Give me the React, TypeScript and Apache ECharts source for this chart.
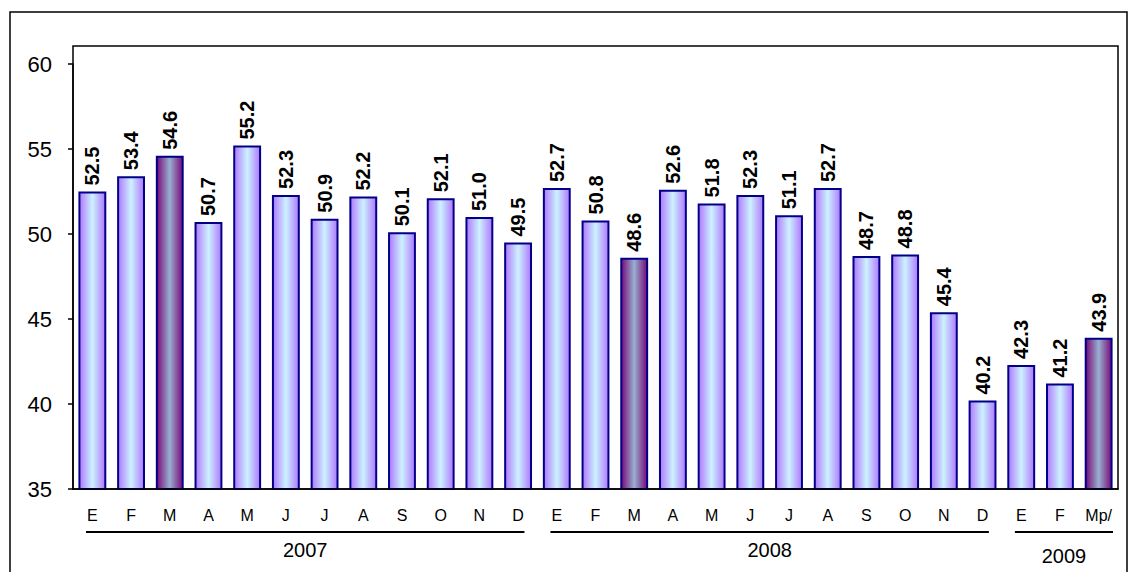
import React, { useEffect, useRef } from "react";
import * as echarts from "echarts";

const months = ["E","F","M","A","M","J","J","A","S","O","N","D","E","F","M","A","M","J","J","A","S","O","N","D","E","F","Mp/"];
const values = [52.5,53.4,54.6,50.7,55.2,52.3,50.9,52.2,50.1,52.1,51.0,49.5,52.7,50.8,48.6,52.6,51.8,52.3,51.1,52.7,48.7,48.8,45.4,40.2,42.3,41.2,43.9];
const highlighted = [2, 14, 26];
const years = [
  { label: "2007", from: 0, to: 11 },
  { label: "2008", from: 12, to: 23 },
  { label: "2009", from: 24, to: 26 },
];

const FONT = "Arial";

export default function App() {
  const ref = useRef<HTMLDivElement>(null);
  useEffect(() => {
    const chart = echarts.init(ref.current!, null, { renderer: "svg" });
    const normalFill = new echarts.graphic.LinearGradient(0, 0, 1, 0, [
      { offset: 0, color: "#b078ff" },
      { offset: 0.5, color: "#ccf2ff" },
      { offset: 1, color: "#b078ff" },
    ]);
    const hiFill = new echarts.graphic.LinearGradient(0, 0, 1, 0, [
      { offset: 0, color: "#780878" },
      { offset: 0.5, color: "#98b0d0" },
      { offset: 1, color: "#780878" },
    ]);
    const gridLeft = 73, gridRight = 12, gridTop = 64, gridBottom = 83;
    const width = 1130;
    const plotW = width - gridLeft - gridRight;
    const band = plotW / months.length;
    const graphics: any[] = [
      {
        type: "rect",
        shape: { x: 10, y: 12, width: 1117, height: 572 },
        style: { fill: "none", stroke: "#000", lineWidth: 1.5 },
        silent: true,
      },
      {
        type: "rect",
        shape: { x: gridLeft, y: 46, width: plotW, height: 572 - gridBottom - 46 },
        style: { fill: "none", stroke: "#000", lineWidth: 1.5 },
        silent: true,
        z: 10,
      },
    ];
    years.forEach((y, idx) => {
      const x1 = gridLeft + y.from * band + 13;
      const x2 = gridLeft + (y.to + 1) * band - (idx === 2 ? 5 : 13);
      graphics.push({
        type: "line",
        shape: { x1, y1: 532, x2, y2: 532 },
        style: { stroke: "#000", lineWidth: 2 },
        silent: true,
      });
      graphics.push({
        type: "text",
        x: (x1 + x2) / 2,
        y: idx === 2 ? 556 : 550,
        style: {
          text: y.label,
          fill: "#000",
          fontSize: 20,
          fontFamily: FONT,
          align: "center",
          verticalAlign: "middle",
        },
        silent: true,
      });
    });
    chart.setOption({
      animation: false,
      grid: { left: gridLeft, right: gridRight, top: gridTop, bottom: gridBottom },
      xAxis: {
        type: "category",
        data: months,
        axisLine: { lineStyle: { color: "#000", width: 1.5 } },
        axisTick: { inside: true, length: 4, lineStyle: { color: "#000", width: 1.5 } },
        axisLabel: { color: "#000", fontFamily: FONT, fontSize: 16, margin: 18 },
      },
      yAxis: {
        type: "value",
        min: 35,
        max: 60,
        interval: 5,
        splitLine: { show: false },
        axisLine: { show: true, lineStyle: { color: "#000", width: 1.5 } },
        axisTick: { show: true, length: 5, lineStyle: { color: "#000", width: 1.5 } },
        axisLabel: { color: "#000", fontFamily: FONT, fontSize: 22, margin: 21 },
      },
      series: [
        {
          type: "bar",
          barWidth: "72%",
          data: values.map((v, i) => ({
            value: v,
            itemStyle: { color: highlighted.includes(i) ? hiFill : normalFill },
          })),
          itemStyle: { borderColor: "#000088", borderWidth: 2 },
          label: {
            show: true,
            position: "top",
            rotate: 90,
            align: "left",
            verticalAlign: "middle",
            distance: 6,
            formatter: (p: any) => Number(p.value).toFixed(1),
            color: "#000",
            fontWeight: "bold",
            fontFamily: FONT,
            fontSize: 20,
          },
        },
      ],
      graphic: graphics,
    });
    return () => chart.dispose();
  }, []);
  return (
    <div
      ref={ref}
      style={{ position: "fixed", left: 0, top: 0, width: 1130, height: 572, background: "#fff" }}
    />
  );
}
